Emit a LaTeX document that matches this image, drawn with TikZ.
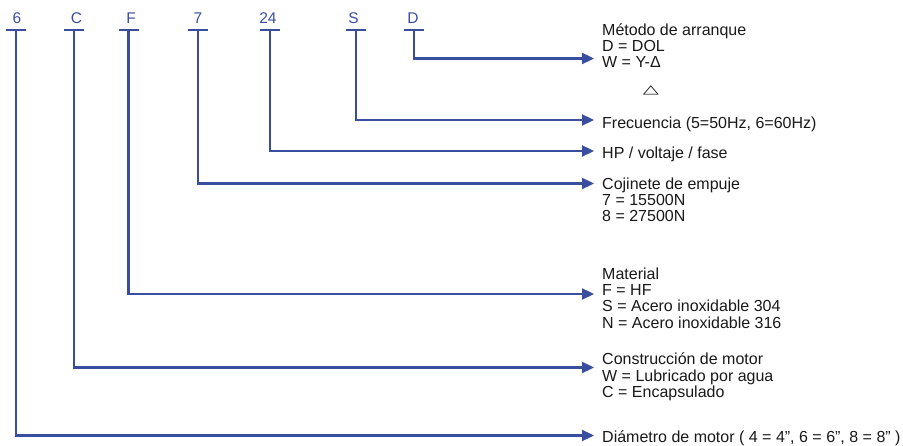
\documentclass[tikz,border=0pt]{standalone}
\usepackage{fontspec}
\usepackage{graphicx}
\setmainfont{Liberation Sans}
\newfontfamily\symfont{DejaVu Sans}
\usetikzlibrary{arrows.meta}
\definecolor{codeblue}{RGB}{58,78,160}
\definecolor{txt}{RGB}{25,25,25}
\begin{document}
\begin{tikzpicture}[x=1pt,y=-1pt,
  conn/.style={draw=codeblue,line width=2.3pt},
  arr/.style={conn,-{Triangle[length=12pt,width=11pt]}},
  code/.style={text=codeblue,font=\fontsize{15.5}{15.5}\selectfont,inner sep=0pt,anchor=base},
  desc/.style={text=txt,font=\fontsize{16}{15.5}\selectfont,inner sep=0pt,anchor=base west}]
\useasboundingbox (0,0) rectangle (903,446);

% code letters
\node[code] (l6) at (17,23.5) {6};
\node[code] (lC) at (76.5,23.5) {C};
\node[code] (lF) at (131,23.5) {F};
\node[code] (l7) at (198,23.5) {7};
\node[code] (l24) at (268,23.5) {24};
\node[code] (lS) at (353.5,23.5) {S};
\node[code] (lD) at (413,23.5) {D};

% T tops
\foreach \n/\x in {6/16,C/74,F/128.5,7/198,24/270,S/356,D/414}{
  \coordinate (t\n) at (\x,30);
  \coordinate (bl\n) at (\x-10,30);
  \coordinate (br\n) at (\x+10,30);
  \draw[conn] (bl\n) -- (br\n);
}

% descriptions
\node[desc] (dD) at (602,36) {\begin{tabular}[t]{@{}l@{}}Método de arranque\\D = DOL\\W = Y-Δ\end{tabular}};
\node[text=txt,inner sep=0pt] (tri) at (651,90) {\scalebox{1}[0.58]{\symfont\fontsize{21}{21}\selectfont △}};
\node[desc] (dS) at (602,128.5) {Frecuencia (5=50Hz, 6=60Hz)};
\node[desc] (d24) at (602,158.5) {HP / voltaje / fase};
\node[desc] (d7) at (602,189.5) {\begin{tabular}[t]{@{}l@{}}Cojinete de empuje\\7 = 15500N\\8 = 27500N\end{tabular}};
\node[desc] (dF) at (602,280) {\begin{tabular}[t]{@{}l@{}}Material\\F = HF\\S = Acero inoxidable 304\\N = Acero inoxidable 316\end{tabular}};
\node[desc] (dC) at (602,365) {\begin{tabular}[t]{@{}l@{}}Construcción de motor\\W = Lubricado por agua\\C = Encapsulado\end{tabular}};
\node[desc] (d6) at (602,442.3) {Diámetro de motor ( 4 = 4”, 6 = 6”, 8 = 8” )};

% connectors
\foreach \n/\y in {D/58.5,S/120,24/151,7/183.5,F/294,C/367.5,6/435.5}{
  \coordinate (a\n) at (594,\y);
  \draw[arr] (t\n) |- (a\n);
}
\end{tikzpicture}
\end{document}
